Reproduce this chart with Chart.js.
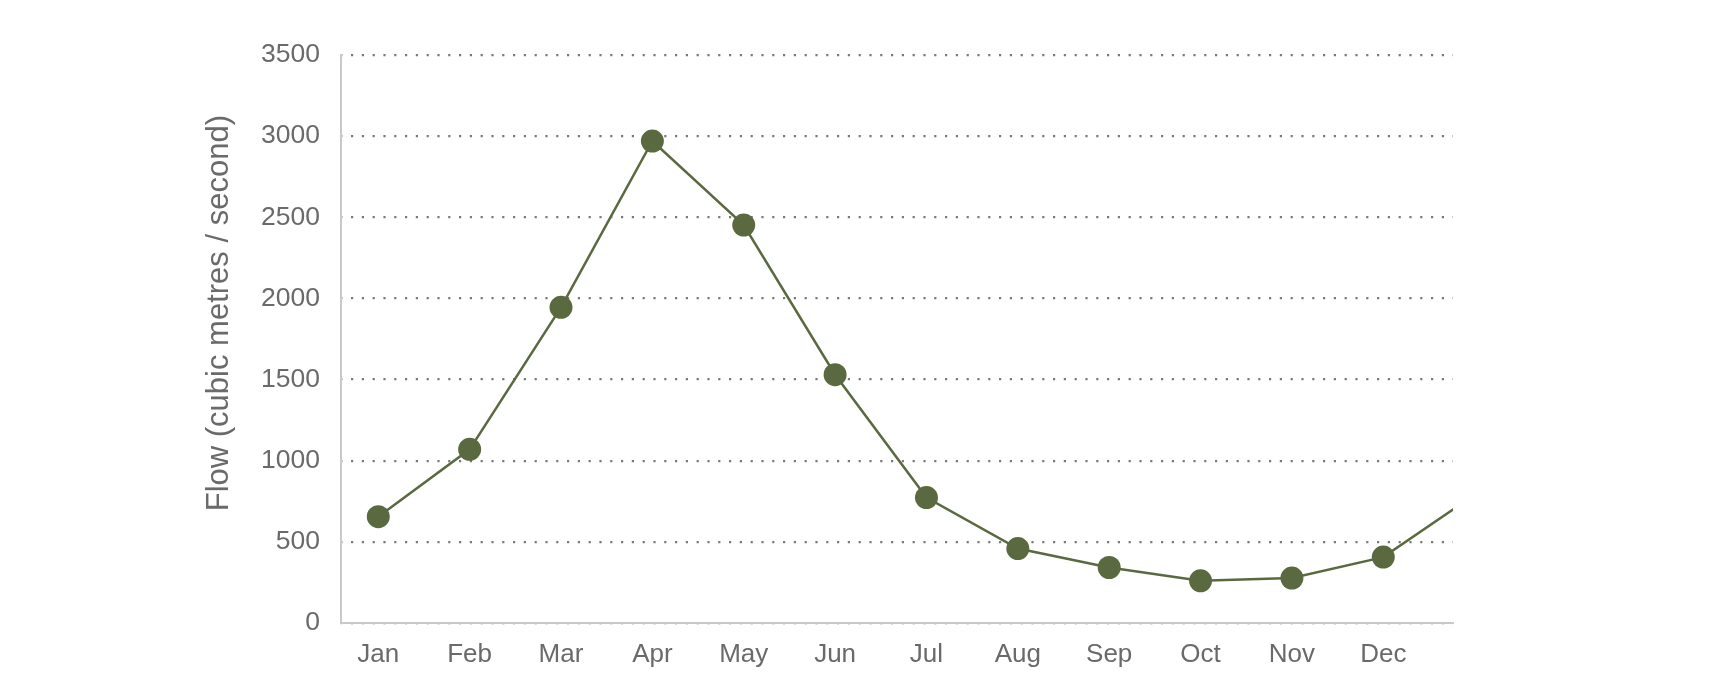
<!DOCTYPE html>
<html>
<head>
<meta charset="utf-8">
<script src="https://cdn.jsdelivr.net/npm/chart.js@4/dist/chart.umd.min.js"></script>
<style>
  html, body { margin: 0; padding: 0; background: #fff; }
  #wrap { width: 1724px; height: 700px; }
</style>
</head>
<body>
<div id="wrap"><canvas id="flowChart"></canvas></div>
<script>
const months = ['Jan', 'Feb', 'Mar', 'Apr', 'May', 'Jun', 'Jul', 'Aug', 'Sep', 'Oct', 'Nov', 'Dec'];
// monthly mean flow, last value is January of the following year (runs off the right edge)
const flow = [655, 1070, 1945, 2970, 2452, 1530, 773, 459, 342, 260, 277, 406, 790];
const yTicks = [0, 500, 1000, 1500, 2000, 2500, 3000, 3500];

const olive = '#5a6940';
const textGrey = '#6a6a6a';

const points = flow.map((v, i) => ({ x: i, y: v }));

const ctx = document.getElementById('flowChart').getContext('2d');

const flowChart = new Chart(ctx, {
    type: 'line',
    data: {
        datasets: [{
            label: 'Flow',
            data: points,
            borderColor: olive,
            backgroundColor: olive,
            borderWidth: 2.5,
            pointRadius: 11.5,
            pointHoverRadius: 11.5,
            pointBorderWidth: 0,
            pointBackgroundColor: olive,
            tension: 0,
            clip: 0
        }]
    },
    options: {
        responsive: true,
        maintainAspectRatio: false,
        animation: false,
        layout: {
            padding: { left: 190, right: 271, top: 55, bottom: 17 }
        },
        plugins: {
            legend: { display: false },
            tooltip: { enabled: false }
        },
        scales: {
            x: {
                type: 'linear',
                min: -0.408,
                max: 11.763,
                afterBuildTicks: (scale) => {
                    scale.ticks = months.map((m, i) => ({ value: i }));
                },
                afterFit: (scale) => { scale.height = 60; },
                grid: { display: false, drawTicks: false },
                border: { display: true, color: '#c9c9c9', width: 2 },
                ticks: {
                    color: textGrey,
                    font: { family: 'Liberation Sans, Arial', size: 26 },
                    padding: 16,
                    maxRotation: 0,
                    autoSkip: false,
                    callback: (v) => months[v]
                }
            },
            y: {
                min: 0,
                max: 3500,
                afterBuildTicks: (scale) => {
                    scale.ticks = yTicks.map(v => ({ value: v }));
                },
                afterFit: (scale) => { scale.width = 341 - 190; },
                grid: { color: '#7a7a7a', lineWidth: 2.2, drawTicks: false },
                border: { display: true, color: '#c9c9c9', width: 2, dash: [2.2, 8.6], dashOffset: -9 },
                ticks: {
                    color: textGrey,
                    font: { family: 'Liberation Sans, Arial', size: 26.5 },
                    padding: 21,
                    callback: (v) => String(v)
                },
                title: {
                    display: true,
                    text: '      Flow (cubic metres / second)',
                    color: textGrey,
                    font: { family: 'Liberation Sans, Arial', size: 31 },
                    padding: { top: 11, bottom: 0 }
                }
            }
        }
    }
});
</script>
</body>
</html>
